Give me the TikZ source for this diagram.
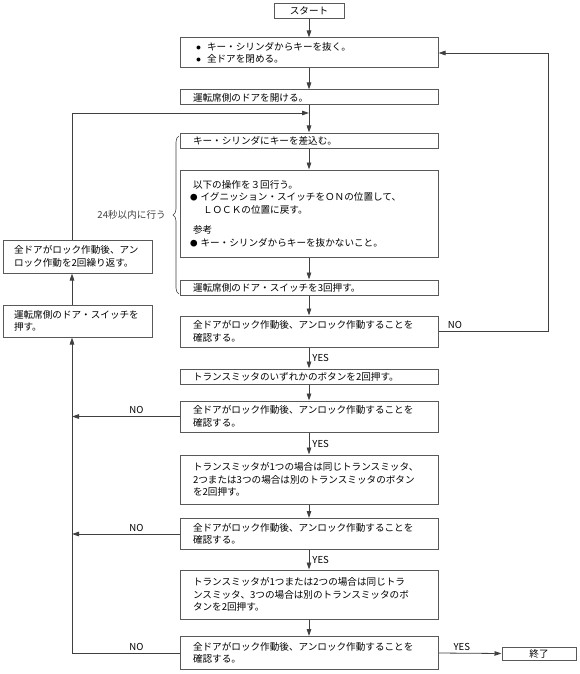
\documentclass[tikz,border=0pt]{standalone}
\usepackage{fontspec}
\setmainfont{Noto Sans CJK JP}
\usepackage{tikz}
\usetikzlibrary{calc, positioning, arrows.meta, decorations.pathreplacing}

\definecolor{linegray}{gray}{0.25}
\definecolor{boxgray}{gray}{0.35}
\newcommand{\dotmark}{\hspace*{-3pt}{\fontsize{7.5}{7.5}\selectfont ●}\hspace{3pt}}

\begin{document}
\begin{tikzpicture}[
    x=1pt, y=-1pt,
    every node/.style={font=\fontsize{9.6}{12.5}\selectfont, inner sep=0pt},
    stepbox/.style={draw=boxgray, line width=1pt, rectangle, minimum width=258pt, minimum height=15pt, text width=232pt, align=left},
    termbox/.style={draw=boxgray, line width=1pt, rectangle, minimum height=15pt, align=center},
    leftbox/.style={draw=boxgray, line width=1pt, rectangle, minimum width=149pt, minimum height=32pt, text width=127pt, align=left},
    flow/.style={draw=linegray, line width=0.8pt, -{Triangle[length=7pt, width=4.5pt]}},
    plain/.style={draw=linegray, line width=0.8pt}
]
\useasboundingbox (0,0) rectangle (580,674);

% main column
\node[termbox, minimum width=70pt] (start) at (309,11) {スタート};
\node[stepbox, minimum height=30pt] (remove) at (309,53)
    {\hspace*{3pt}$\bullet$\hspace{6pt}キー・シリンダからキーを抜く。\\\hspace*{3pt}$\bullet$\hspace{6pt}全ドアを閉める。};
\node[stepbox] (open) at (309,97.5) {運転席側のドアを開ける。};
\node[stepbox] (insert) at (309,140.5) {キー・シリンダにキーを差込む。};
\node[stepbox, minimum height=87pt] (ignition) at (309,213.5)
    {以下の操作を３回行う。\\
     \dotmark イグニッション・スイッチをＯＮの位置して、\\
     \hspace*{10pt}ＬＯＣＫの位置に戻す。\\[8pt]
     参考\\
     \dotmark キー・シリンダからキーを抜かないこと。};
\node[stepbox] (pushthree) at (309,287.5) {運転席側のドア・スイッチを3回押す。};
\node[stepbox, minimum height=31pt] (checka) at (309,331.5)
    {全ドアがロック作動後、アンロック作動することを\\確認する。};
\node[stepbox] (txpush) at (309,376.5) {トランスミッタのいずれかのボタンを2回押す。};
\node[stepbox, minimum height=31pt] (checkb) at (309,416.5)
    {全ドアがロック作動後、アンロック作動することを\\確認する。};
\node[stepbox, minimum height=49pt] (txsecond) at (309,479.5)
    {トランスミッタが1つの場合は同じトランスミッタ、\\2つまたは3つの場合は別のトランスミッタのボタン\\を2回押す。};
\node[stepbox, minimum height=31pt] (checkc) at (309,534)
    {全ドアがロック作動後、アンロック作動することを\\確認する。};
\node[stepbox, minimum height=49pt] (txthird) at (309,594.5)
    {トランスミッタが1つまたは2つの場合は同じトラ\\ンスミッタ、3つの場合は別のトランスミッタのボ\\タンを2回押す。};
\node[stepbox, minimum height=33pt] (checkd) at (309,653)
    {全ドアがロック作動後、アンロック作動することを\\確認する。};
\node[termbox, minimum width=74pt, minimum height=13pt] (finish) at (539,653.5) {終了};

% left column
\node[leftbox, minimum height=33pt] (repeatbox) at (77.5,256.5)
    {全ドアがロック作動後、アン\\ロック作動を2回繰り返す。};
\node[leftbox] (pushleft) at (77.5,321)
    {運転席側のドア・スイッチを\\押す。};

\coordinate (lx) at (72,0);
\coordinate (rx) at (548,0);
\coordinate (merge) at (309,113);

% connectors
\foreach \a/\b in {start/remove, remove/open, open/insert, insert/ignition, ignition/pushthree, pushthree/checka, txpush/checkb, txsecond/checkc, txthird/checkd}
    \draw[flow] (\a.south) -- (\b.north);
\foreach \a/\b in {checka/txpush, checkb/txsecond, checkc/txthird}
    \draw[flow] (\a.south) -- node[right=3pt] {YES} (\b.north);

\draw[flow] (checka.east) -- node[pos=0.15, above=2pt] {NO} (checka.east -| rx) |- (remove.east);
\draw[flow] (checkb.west) -- node[pos=0.4, above=2pt] {NO} (checkb.west -| lx);
\draw[flow] (checkc.west) -- node[pos=0.4, above=2pt] {NO} (checkc.west -| lx);
\draw[flow] (checkd.west) -- node[pos=0.4, above=2pt] {NO} (checkd.west -| lx) -- (pushleft.south -| lx);
\draw[flow] (checkd.east) -- node[pos=0.37, above=2pt] {YES} (finish.west);

\draw[flow] (pushleft.north -| lx) -- (repeatbox.south -| lx);
\draw[flow] (repeatbox.north -| lx) |- (merge);

% time limit brace
\draw[linegray, line width=0.6pt, decorate, decoration={brace, amplitude=6pt}]
    (179,294) -- node[left=13pt] {24秒以内に行う} (179,136);

\end{tikzpicture}
\end{document}
